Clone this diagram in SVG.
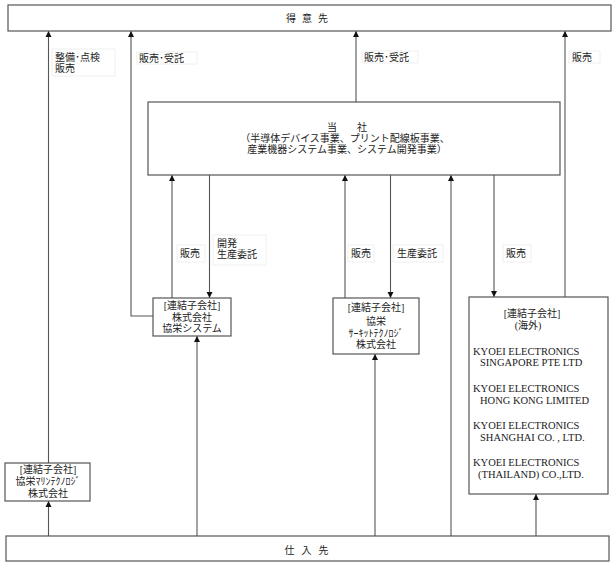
<svg xmlns="http://www.w3.org/2000/svg" width="615" height="567" viewBox="0 0 615 567">
<defs>
<marker id="ah" markerWidth="6" markerHeight="7" refX="6" refY="3.5" orient="auto" markerUnits="userSpaceOnUse">
<path d="M0,0.5 L6,3.5 L0,6.5 Z" fill="#111"/>
</marker>
</defs>
<style>
text{font-family:"Liberation Serif","Noto Sans CJK JP",serif;font-size:10px;fill:#222}
.c{text-anchor:middle}
.en{font-size:10.5px}
.box{fill:#fff;stroke:#555;stroke-width:1.2}
.lbl{fill:#fff;stroke:#f0f0f0;stroke-width:1}
.ln{fill:none;stroke:#555;stroke-width:1.1;marker-end:url(#ah)}
</style>
<rect width="615" height="567" fill="#fff"/>
<g id="connectors">
<path class="ln" d="M48.5,536 V501"/>
<path class="ln" d="M48.5,463 V31"/>
<path class="ln" d="M153,316 H131 V31"/>
<path class="ln" d="M197,536 V336"/>
<path class="ln" d="M172,298 V175"/>
<path class="ln" d="M209.5,175 V298"/>
<path class="ln" d="M356,102 V31"/>
<path class="ln" d="M345,298 V175"/>
<path class="ln" d="M390.5,175 V298"/>
<path class="ln" d="M375,536 V354"/>
<path class="ln" d="M451,536 V175"/>
<path class="ln" d="M494,175 V297"/>
<path class="ln" d="M565,297 V31"/>
<path class="ln" d="M536,536 V494"/>
</g>
<g id="labels">
<rect class="lbl" x="52" y="49" width="63" height="27"/>
<text x="55" y="61">整備･点検</text>
<text x="55" y="72">販売</text>
<rect class="lbl" x="137" y="52" width="60" height="12"/>
<text x="139" y="62">販売･受託</text>
<rect class="lbl" x="362" y="51" width="56" height="12"/>
<text x="364" y="61">販売･受託</text>
<rect class="lbl" x="569" y="51" width="31" height="12"/>
<text x="572" y="61">販売</text>
<rect class="lbl" x="177" y="245" width="28" height="17"/>
<text x="180" y="257">販売</text>
<rect class="lbl" x="213" y="235" width="53" height="30"/>
<text x="217" y="247">開発</text>
<text x="217" y="258">生産委託</text>
<rect class="lbl" x="348" y="245" width="26" height="17"/>
<text x="351" y="257">販売</text>
<rect class="lbl" x="393" y="245" width="50" height="17"/>
<text x="397" y="257">生産委託</text>
<rect class="lbl" x="503" y="245" width="28" height="17"/>
<text x="506" y="257">販売</text>
</g>
<g id="customers">
<rect class="box" x="8" y="5" width="603" height="26"/>
<text class="c" x="310" y="22" letter-spacing="6">得意先</text>
</g>
<g id="company">
<rect class="box" x="148" y="102" width="412" height="73"/>
<text class="c" x="347" y="131">当　　社</text>
<text class="c" x="345" y="142">（半導体デバイス事業、プリント配線板事業、</text>
<text class="c" x="347" y="153">産業機器システム事業、システム開発事業）</text>
</g>
<g id="kyoei-system">
<rect class="box" x="153" y="298" width="78" height="38"/>
<text class="c" x="192" y="309">[連結子会社]</text>
<text class="c" x="192" y="321">株式会社</text>
<text class="c" x="192" y="332">協栄システム</text>
</g>
<g id="kyoei-circuit">
<rect class="box" x="333" y="298" width="86" height="56"/>
<text class="c" x="376" y="311">[連結子会社]</text>
<text class="c" x="376" y="325">協栄</text>
<text class="c" x="376" y="337">ｻｰｷｯﾄﾃｸﾉﾛｼﾞ</text>
<text class="c" x="376" y="348">株式会社</text>
</g>
<g id="overseas">
<rect class="box" x="469" y="297" width="139" height="197"/>
<text class="c" x="532" y="317">[連結子会社]</text>
<text class="c" x="528" y="329">(海外)</text>
<text class="en" x="473" y="355">KYOEI ELECTRONICS</text>
<text class="en" x="480" y="366">SINGAPORE PTE LTD</text>
<text class="en" x="473" y="392">KYOEI ELECTRONICS</text>
<text class="en" x="480" y="404">HONG KONG LIMITED</text>
<text class="en" x="473" y="429">KYOEI ELECTRONICS</text>
<text class="en" x="480" y="441">SHANGHAI CO. , LTD.</text>
<text class="en" x="473" y="466">KYOEI ELECTRONICS</text>
<text class="en" x="478" y="478">(THAILAND) CO.,LTD.</text>
</g>
<g id="kyoei-marine">
<rect class="box" x="5" y="463" width="85" height="38"/>
<text class="c" x="48" y="473">[連結子会社]</text>
<text class="c" x="48" y="485">協栄ﾏﾘﾝﾃｸﾉﾛｼﾞ</text>
<text class="c" x="48" y="497">株式会社</text>
</g>
<g id="suppliers">
<rect class="box" x="6" y="536" width="603" height="25"/>
<text class="c" x="310" y="554" letter-spacing="7">仕入先</text>
</g>
</svg>
